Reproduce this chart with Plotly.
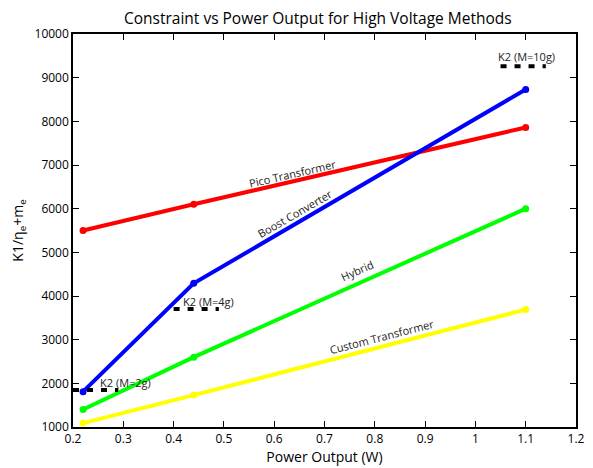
import plotly.graph_objects as go

power = [0.22, 0.44, 1.1]
pico = [5500, 6100, 7860]
boost = [1810, 4290, 8730]
hybrid = [1400, 2600, 6000]
custom = [1090, 1730, 3690]

k2_names = ["K2 (M=2g)", "K2 (M=4g)", "K2 (M=10g)"]
k2_values = [1850, 3700, 9260]
k2_x0 = [0.2, 0.40, 1.05]
k2_x1 = [0.29, 0.49, 1.14]

FONT = "Open Sans"

fig = go.Figure()
series = [("Pico Transformer", pico, "#ff0000"),
          ("Boost Converter", boost, "#0000ff"),
          ("Hybrid", hybrid, "#00ff00"),
          ("Custom Transformer", custom, "#ffff00")]
for name, vals, col in series:
    fig.add_trace(go.Scatter(x=power, y=vals, mode="lines+markers", name=name,
                             line=dict(color=col, width=4),
                             marker=dict(color=col, size=7)))

for n, v, a, b in zip(k2_names, k2_values, k2_x0, k2_x1):
    fig.add_trace(go.Scatter(x=[a, b], y=[v, v], mode="lines", name=n,
                             line=dict(color="black", width=4, dash="6px,8px")))

anns = []
labels = [("Pico Transformer", 0.636, 6810, -13),
          ("Boost Converter", 0.641, 5885, -30),
          ("Hybrid", 0.765, 4580, -24),
          ("Custom Transformer", 0.814, 3080, -14.5)]
for t, x, y, ang in labels:
    anns.append(dict(x=x, y=y, text=t, showarrow=False, textangle=ang,
                     font=dict(family=FONT, size=11, color="#222")))
k2_lab = [(0.249, 2030), (0.414, 3880), (1.040, 9490)]
for n, (x, y) in zip(k2_names, k2_lab):
    anns.append(dict(x=x, y=y, text=n, showarrow=False, xanchor="left",
                     font=dict(family=FONT, size=11, color="#222")))

fig.update_layout(
    width=577, height=460,
    margin=dict(l=65, r=9, t=26, b=41),
    paper_bgcolor="white", plot_bgcolor="white",
    showlegend=False,
    title=dict(text="Constraint vs Power Output for High Voltage Methods",
               x=0.537, xanchor="center", y=0.978, yanchor="middle",
               font=dict(family=FONT, size=15.5, color="black")),
    font=dict(family=FONT, size=12, color="black"),
    annotations=anns,
)
fig.update_xaxes(range=[0.2, 1.2], dtick=0.1, tickformat="~g", automargin=False,
                 ticklabeloverflow="allow",
                 showgrid=False, zeroline=False,
                 showline=True, linecolor="black", linewidth=1.5, mirror="allticks",
                 ticks="inside", ticklen=6, tickcolor="black",
                 title=dict(text="Power Output (W)", font=dict(size=14), standoff=0))
fig.update_yaxes(range=[1000, 10000], dtick=1000, tickformat="d", automargin=False,
                 showgrid=False, zeroline=False,
                 showline=True, linecolor="black", linewidth=1.5, mirror="allticks",
                 ticks="inside", ticklen=6, tickcolor="black",
                 title=dict(text="K1/η<sub>e</sub>+m<sub>e</sub>", font=dict(size=14), standoff=8))

fig.write_html("out.html")
